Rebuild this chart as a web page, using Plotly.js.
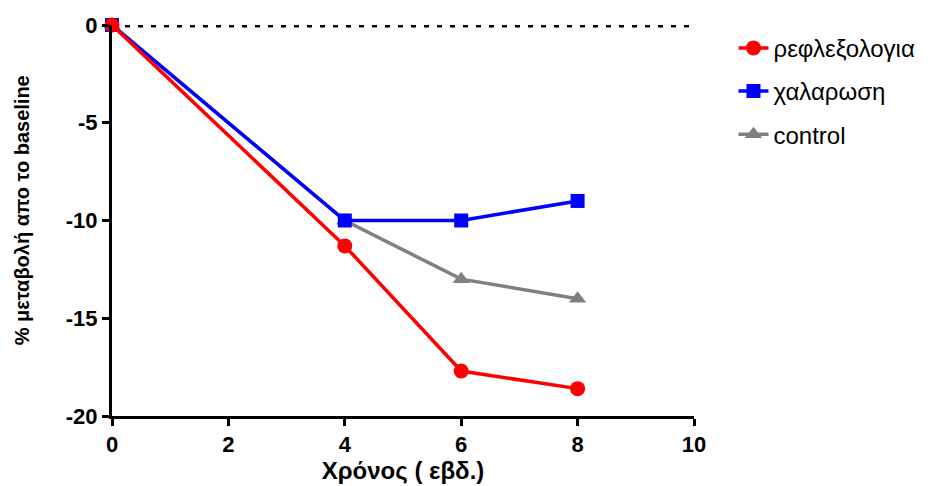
<!DOCTYPE html>
<html>
<head>
<meta charset="utf-8">
<script src="https://cdn.plot.ly/plotly-3.0.1.min.js"></script>
<style>html,body{margin:0;padding:0;background:#fff;}#chart{width:931px;height:486px;}</style>
</head>
<body>
<div id="chart"></div>
<script>
const weeks = [0, 4, 6, 8];
const reflexology = [0, -11.3, -17.7, -18.6];
const relaxation = [0, -10, -10, -9];
const control = [0, -10, -13, -14];
const seriesNames = ["ρεφλεξολογια", "χαλαρωση", "control"];
const xTicks = [0, 2, 4, 6, 8, 10];
const yTicks = [0, -5, -10, -15, -20];
const xTitle = "Χρόνος ( εβδ.)";
const yTitle = "% μεταβολή απο το baseline";

const font = "Liberation Sans, Arial, sans-serif";

const traces = [
  {x: [0, 10], y: [0, 0], mode: 'lines', line: {color: '#000', width: 5, dash: '5px,8px'},
   showlegend: false, hoverinfo: 'skip', cliponaxis: false},
  {x: weeks, y: control, name: seriesNames[2], mode: 'lines+markers', legendgroup: 'c', legendrank: 3,
   line: {color: '#808080', width: 3.5}, marker: {symbol: 'triangle-up', size: 15, color: '#808080'}, cliponaxis: false},
  {x: weeks, y: relaxation, name: seriesNames[1], mode: 'lines+markers', legendgroup: 'b', legendrank: 2,
   line: {color: '#0000ff', width: 3.5}, marker: {symbol: 'square', size: 14, color: '#0000ff'}, cliponaxis: false},
  {x: weeks, y: reflexology, name: seriesNames[0], mode: 'lines+markers', legendgroup: 'a', legendrank: 1,
   line: {color: '#ff0000', width: 3.5}, marker: {symbol: 'circle', size: 15, color: '#ff0000'}, cliponaxis: false}
];

const layout = {
  width: 931, height: 486,
  margin: {l: 112, r: 236, t: 25, b: 70},
  paper_bgcolor: '#fff', plot_bgcolor: '#fff',
  showlegend: true,
  legend: {x: 1.066, xanchor: 'left', y: 0.998, yanchor: 'top', traceorder: 'grouped',
           tracegroupgap: 9, font: {family: font, size: 24, color: '#000'}},
  xaxis: {range: [0, 10], tickvals: xTicks, ticktext: xTicks.map(String), showgrid: false, zeroline: false,
          showline: true, linecolor: '#000', linewidth: 3, ticks: 'outside', ticklen: 7, tickwidth: 3, tickcolor: '#000',
          tickfont: {family: font, size: 22, color: '#000', weight: 'bold'},
          title: {text: '<b>' + xTitle + '</b>', font: {family: font, size: 24, color: '#000'}, standoff: 4}},
  yaxis: {range: [-20, 0], tickvals: yTicks, ticktext: yTicks.map(String), showgrid: false, zeroline: false,
          showline: true, linecolor: '#000', linewidth: 3, ticks: 'outside', ticklen: 7, tickwidth: 3, tickcolor: '#000',
          tickfont: {family: font, size: 22, color: '#000', weight: 'bold'}},
  annotations: [{text: '<b>' + yTitle + '</b>', xref: 'paper', yref: 'paper', x: -0.154, y: 0.527,
                 xanchor: 'center', yanchor: 'middle', textangle: -90, showarrow: false,
                 font: {family: font, size: 20, color: '#000'}}]
};

Plotly.newPlot('chart', traces, layout, {displayModeBar: false, staticPlot: true});
</script>
</body>
</html>
